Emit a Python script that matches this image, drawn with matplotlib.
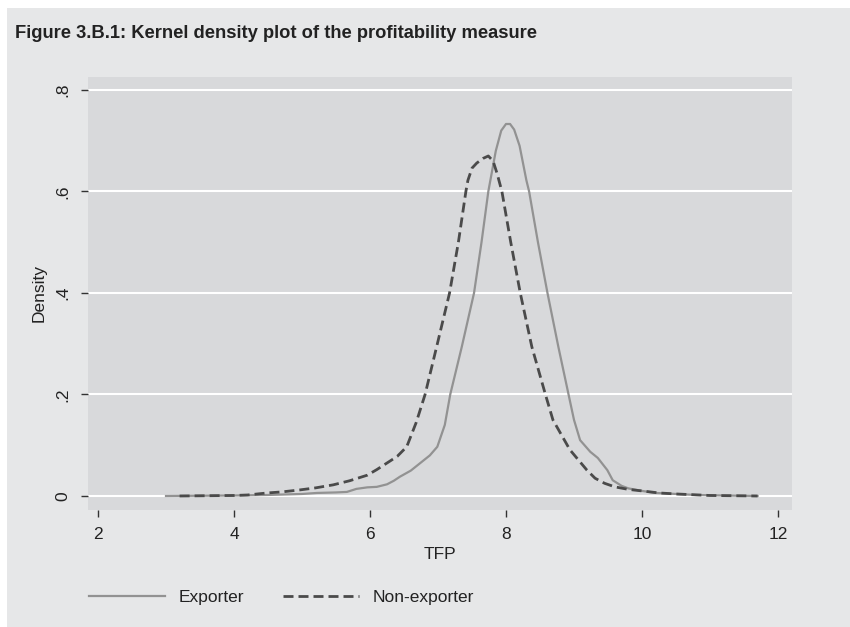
import matplotlib
matplotlib.use("Agg")
import matplotlib.pyplot as plt
from matplotlib.patches import Rectangle

plt.rcParams['font.family'] = ['Liberation Sans', 'DejaVu Sans']

# Exporter kernel density
exp_x = [3.0, 3.5, 4.0, 4.49, 5.0, 5.22, 5.5, 5.66, 5.8, 5.96, 6.1, 6.25, 6.35, 6.44, 6.6,
         6.74, 6.88, 6.99, 7.1, 7.18, 7.35, 7.53, 7.64, 7.74, 7.85, 7.93, 8.0,
         8.06, 8.12, 8.2, 8.3, 8.34, 8.47, 8.61, 8.77, 8.92, 9.0, 9.09, 9.24,
         9.35, 9.49, 9.57, 9.7, 9.8, 10.0, 10.2, 10.5, 10.8, 11.2, 11.7]
exp_y = [0.0, 0.0005, 0.001, 0.002, 0.004, 0.006, 0.007, 0.008, 0.014, 0.017, 0.018, 0.023,
         0.03, 0.038, 0.05, 0.065, 0.08, 0.097, 0.14, 0.2, 0.294, 0.4, 0.5, 0.6, 0.68, 0.72,
         0.733, 0.733, 0.722, 0.69, 0.622, 0.6, 0.5, 0.4, 0.294, 0.2, 0.15, 0.11, 0.087,
         0.075, 0.051, 0.031, 0.02, 0.015, 0.01, 0.006, 0.004, 0.002, 0.001, 0.0]

# Non-exporter kernel density
non_x = [3.2, 3.6, 4.0, 4.2, 4.49, 4.7, 4.97, 5.2, 5.46, 5.7, 5.96, 6.1, 6.25, 6.4, 6.54,
         6.68, 6.81, 6.98, 7.17, 7.3, 7.41, 7.44, 7.5, 7.57, 7.66, 7.74, 7.81,
         7.87, 7.94, 8.07, 8.21, 8.38, 8.58, 8.69, 8.94, 9.19, 9.31, 9.45, 9.6,
         9.8, 10.0, 10.25, 10.5, 11.0, 11.7]
non_y = [0.0, 0.0005, 0.001, 0.002, 0.006, 0.008, 0.012, 0.016, 0.022, 0.03, 0.041, 0.052,
         0.065, 0.078, 0.097, 0.145, 0.2, 0.294, 0.4, 0.5, 0.6, 0.622, 0.646,
         0.656, 0.665, 0.67, 0.66, 0.635, 0.6, 0.5, 0.4, 0.294, 0.2, 0.15, 0.091,
         0.051, 0.035, 0.025, 0.018, 0.013, 0.01, 0.006, 0.004, 0.001, 0.0]

x_ticks = [2, 4, 6, 8, 10, 12]
x_tick_labels = ['2', '4', '6', '8', '10', '12']
y_ticks = [0, 0.2, 0.4, 0.6, 0.8]
y_tick_labels = ['0', '.2', '.4', '.6', '.8']

W, H = 850, 627
fig = plt.figure(figsize=(W / 100, H / 100), dpi=100, facecolor='white')
fig.patches.append(Rectangle((7 / W, 0), 1, 1 - 8 / H, transform=fig.transFigure,
                             facecolor='#e6e7e8', edgecolor='none', zorder=-10))

ax = fig.add_axes([88 / W, 1 - 510 / H, (792 - 88) / W, (510 - 77) / H])
ax.set_zorder(5)
ax.set_facecolor('#d8d9db')
for s in ax.spines.values():
    s.set_visible(False)

ax.set_xlim(1.853, 12.206)
ax.set_ylim(-0.0276, 0.8256)
ax.set_yticks(y_ticks)
ax.set_yticklabels(y_tick_labels, rotation=90, va='center')
ax.set_xticks(x_ticks)
ax.set_xticklabels(x_tick_labels)
ax.grid(axis='y', color='white', linewidth=1.5)
ax.set_axisbelow(True)
ax.tick_params(axis='both', direction='out', length=5, width=1, color='#333333',
               labelsize=12.5, labelcolor='#222222')
ax.tick_params(axis='x', pad=7)
ax.tick_params(axis='y', pad=8)

ax.plot(exp_x, exp_y, color='#929292', linewidth=1.6, label='Exporter', zorder=3)
ax.plot(non_x, non_y, color='#4a4a4a', linewidth=2.0, linestyle=(0, (3.6, 1.8)),
        label='Non-exporter', zorder=4)

ax.set_xlabel('TFP', fontsize=12.5, color='#222222', labelpad=4)
ax.set_ylabel('Density', fontsize=12.5, color='#222222', labelpad=6)

fig.text(15 / W, 1 - 33 / H, 'Figure 3.B.1: Kernel density plot of the profitability measure',
         fontsize=13.2, fontweight='bold', color='#222222', va='center', ha='left')

handles, labels = ax.get_legend_handles_labels()
fig.legend(handles, labels, loc='center left', bbox_to_anchor=(73 / W, 1 - 597 / H),
           ncol=2, frameon=False, fontsize=12.5, handlelength=4.4, handletextpad=0.8,
           columnspacing=2.2, labelcolor='#222222')

fig.savefig('out.png', dpi=100, facecolor=fig.get_facecolor())
